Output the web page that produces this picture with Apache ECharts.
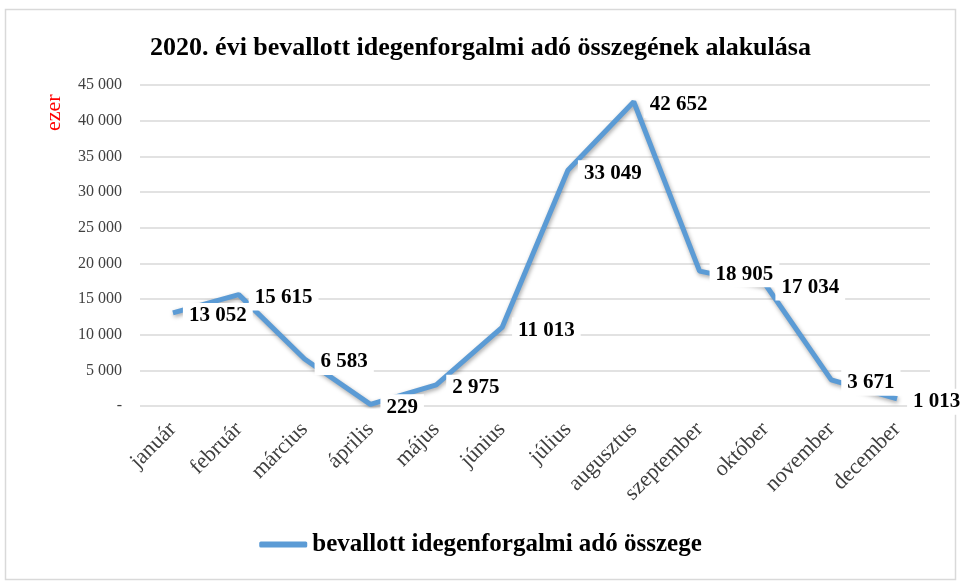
<!DOCTYPE html>
<html><head><meta charset="utf-8">
<script src="https://cdn.jsdelivr.net/npm/echarts@6/dist/echarts.min.js"></script>
<style>html,body{margin:0;padding:0;background:#fff}#c{width:961px;height:584px}</style>
</head><body><div id="c"></div>
<script>
const categories = ['január','február','március','április','május','június','július','augusztus','szeptember','október','november','december'];
const values = [13052,15615,6583,229,2975,11013,33049,42652,18905,17034,3671,1013];
const seriesName = 'bevallott idegenforgalmi adó összege';
const titleText = '2020. évi bevallott idegenforgalmi adó összegének alakulása';
const unitText = 'ezer';

function fmt(v){ if(v===0) return '-'; return String(v).replace(/\B(?=(\d{3})+(?!\d))/g,' '); }

const chart = echarts.init(document.getElementById('c'));
chart.setOption({
  animation:false,
  backgroundColor:'#fff',
  title:{text:titleText,left:'center',top:30,textStyle:{fontFamily:'Liberation Serif',fontWeight:'bold',fontSize:26,color:'#000'}},
  graphic:[
    {type:'rect',shape:{x:5.5,y:9.5,width:950,height:570},style:{fill:'none',stroke:'#d9d9d9',lineWidth:1.5},silent:true},
    {type:'text',x:43,y:131,rotation:Math.PI/2,style:{text:unitText,fill:'#ff0000',font:'22px "Liberation Serif"'}}
  ],
  legend:{data:[{name:seriesName,icon:'roundRect',itemStyle:{color:'#5b9bd5'}}],bottom:22,left:'center',itemWidth:48,itemHeight:6,itemGap:6,
    textStyle:{fontFamily:'Liberation Serif',fontWeight:'bold',fontSize:25,color:'#000'}},
  grid:{left:140,right:31,top:85,bottom:178,containLabel:false},
  xAxis:{type:'category',data:categories,boundaryGap:true,
    axisLine:{show:false},axisTick:{show:false},
    axisLabel:{rotate:45,interval:0,margin:20,fontFamily:'Liberation Serif',fontSize:22,color:'#404040'}},
  yAxis:{type:'value',min:0,max:45000,interval:5000,
    axisLine:{show:false},axisTick:{show:false},
    splitLine:{lineStyle:{color:'#d9d9d9',width:1.5}},
    axisLabel:{formatter:fmt,margin:18,fontFamily:'Liberation Serif',fontSize:16,color:'#404040'}},
  series:[{name:seriesName,type:'line',data:values,showSymbol:true,symbol:'circle',symbolSize:0,
    lineStyle:{color:'#5b9bd5',width:5,shadowColor:'rgba(0,0,0,0.35)',shadowBlur:4,shadowOffsetX:1,shadowOffsetY:2},
    itemStyle:{color:'#5b9bd5'},
    label:{show:true,position:'right',distance:10,offset:[0,3],formatter:p=>fmt(p.value),
      backgroundColor:'#fff',padding:[3,6,2,6],
      fontFamily:'Liberation Serif',fontWeight:'bold',fontSize:21,color:'#000'}
  }]
});
</script></body></html>
